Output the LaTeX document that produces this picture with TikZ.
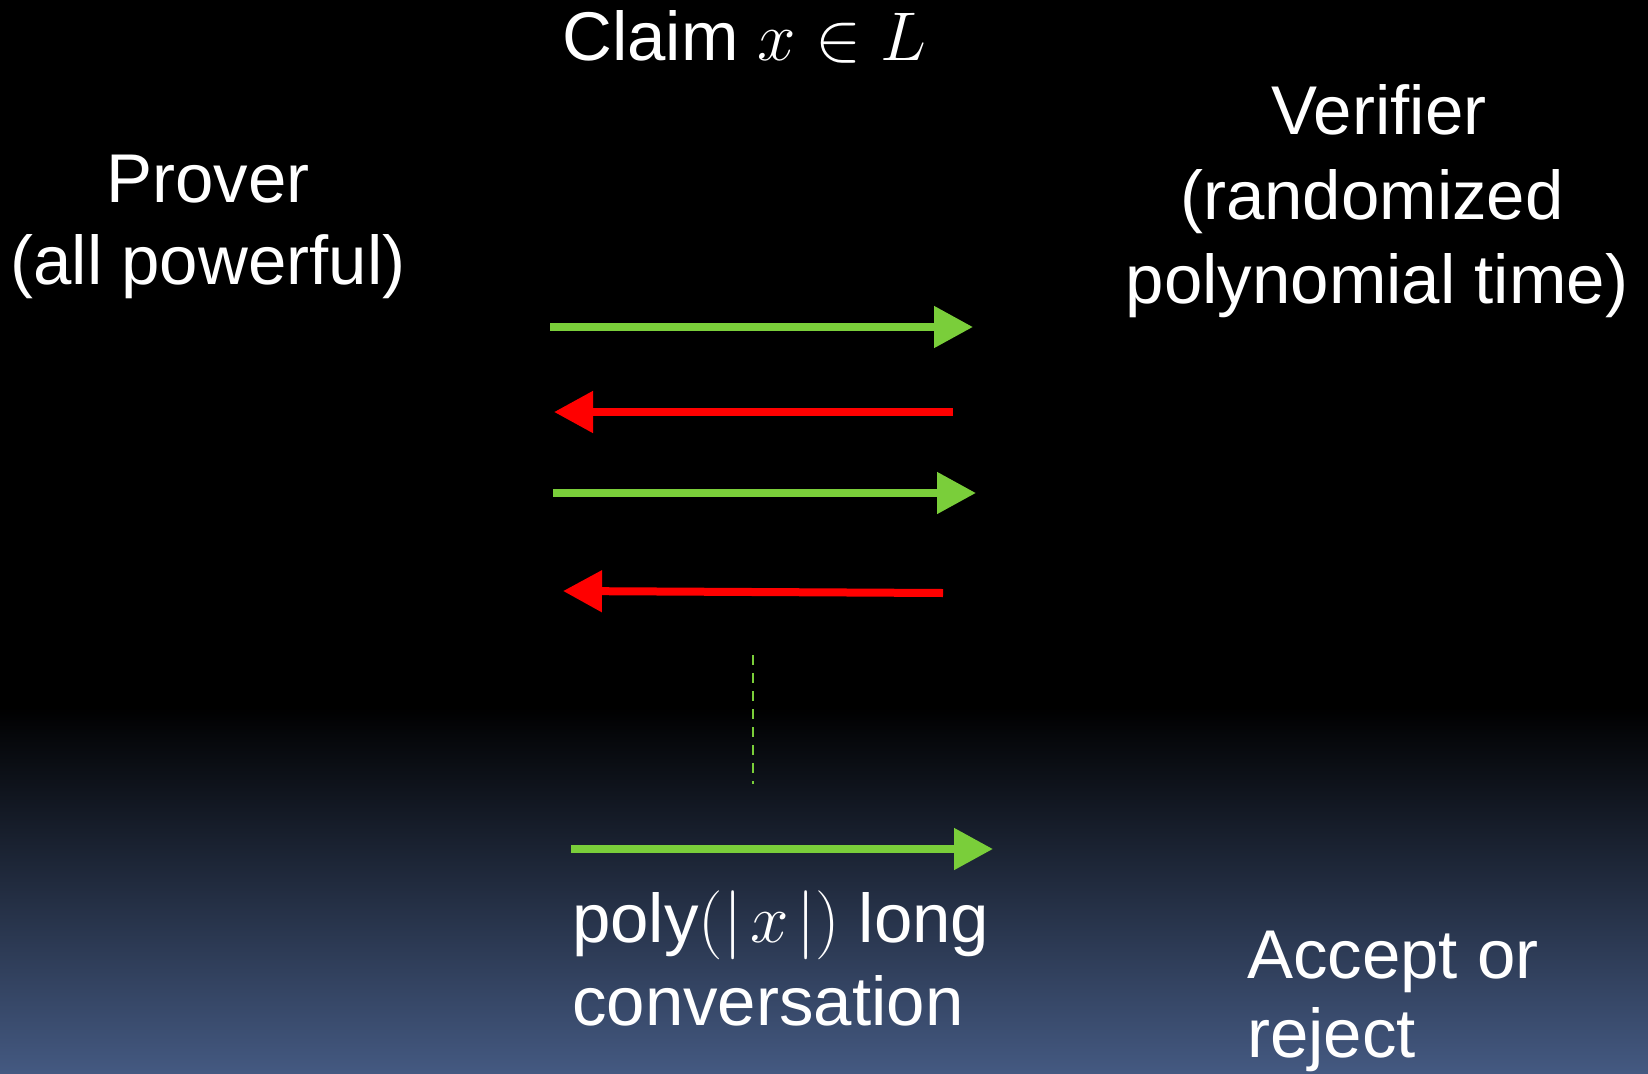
\RequirePackage{fix-cm}
\documentclass[tikz,border=0pt]{standalone}
\usepackage{fontspec}
\setmainfont{Liberation Sans}
\usetikzlibrary{arrows.meta}
\definecolor{agreen}{RGB}{122,206,58}
\definecolor{bgblue}{RGB}{68,89,129}
\begin{document}
\begin{tikzpicture}[x=1pt,y=-1pt,
  lbl/.style={text=white, font=\fontsize{69}{85}\selectfont, inner sep=0pt},
  garrow/.style={agreen, line width=8pt, -{Triangle[length=39pt,width=40pt]}},
  rarrow/.style={red, line width=8pt, -{Triangle[length=39pt,width=40pt]}}]
\useasboundingbox (0,0) rectangle (1648,1073);
\fill[black] (0,0) rectangle (1648,708);
\shade[top color=black, bottom color=bgblue] (0,707) rectangle (1648,1073);

% texts
\node[lbl, anchor=base west] (claim) at (562,60) {Claim $x\in L$};
\node[lbl, anchor=base] (prover1) at (208,202) {Prover};
\node[lbl, anchor=base] (prover2) at (208,284) {(all powerful)};
\node[lbl, anchor=base] (ver1) at (1379,134) {Verifier};
\node[lbl, anchor=base] (ver2) at (1372,219) {(randomized};
\node[lbl, anchor=base] (ver3) at (1377,303) {polynomial time)};
\node[lbl, anchor=base west] (poly1) at (572,942) {poly$(|\mkern2mu x\mkern2mu|)$ long};
\node[lbl, anchor=base west] (poly2) at (572,1025) {conversation};
\node[lbl, anchor=base west] (acc1) at (1247,978) {Accept or};
\node[lbl, anchor=base west] (acc2) at (1247,1057) {reject};

% arrow end points
\coordinate (g1s) at (550,327);  \coordinate (g1e) at (973,327);
\coordinate (r1s) at (953,412);  \coordinate (r1e) at (554,412);
\coordinate (g2s) at (553,493);  \coordinate (g2e) at (976,493);
\coordinate (r2s) at (943,593);  \coordinate (r2e) at (563,591);
\coordinate (g3s) at (571,849);  \coordinate (g3e) at (993,849);
\coordinate (d1) at (753,655);   \coordinate (d2) at (753,784);

\draw[garrow] (g1s) -- (g1e);
\draw[rarrow] (r1s) -- (r1e);
\draw[garrow] (g2s) -- (g2e);
\draw[rarrow] (r2s) -- (r2e);
\draw[agreen, line width=2.6pt, dash pattern=on 10pt off 8pt] (d1) -- (d2);
\draw[garrow] (g3s) -- (g3e);
\end{tikzpicture}
\end{document}
